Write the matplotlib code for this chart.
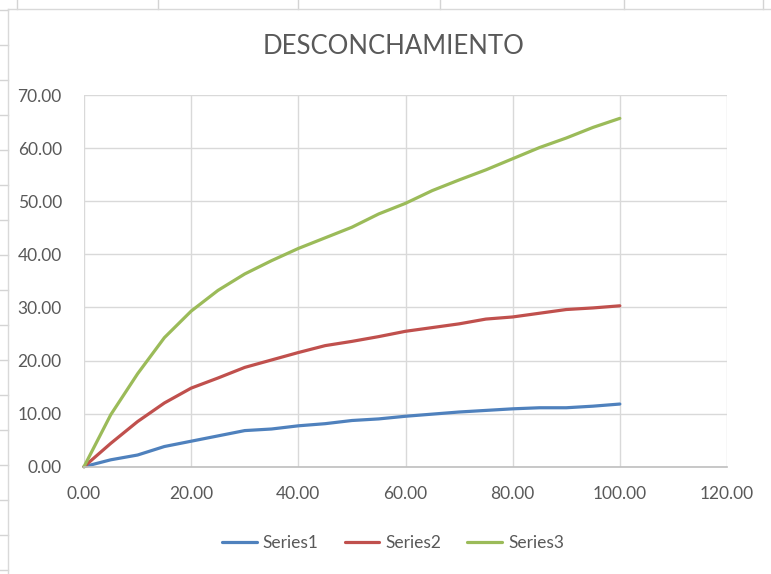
import matplotlib.pyplot as plt
from matplotlib.lines import Line2D

x_vals = [0, 5, 10, 15, 20, 25, 30, 35, 40, 45, 50,
          55, 60, 65, 70, 75, 80, 85, 90, 95, 100]
series1 = [0, 1.3, 2.2, 3.8, 4.8, 5.8, 6.8, 7.1, 7.7, 8.1, 8.7,
           9.0, 9.5, 9.9, 10.3, 10.6, 10.9, 11.1, 11.1, 11.4, 11.8]
series2 = [0, 4.4, 8.5, 12.0, 14.8, 16.7, 18.7, 20.1, 21.5, 22.8, 23.6,
           24.5, 25.5, 26.2, 26.9, 27.8, 28.2, 28.9, 29.6, 29.9, 30.3]
series3 = [0, 9.8, 17.5, 24.3, 29.3, 33.2, 36.3, 38.8, 41.1, 43.1, 45.1,
           47.6, 49.6, 52.0, 54.0, 55.9, 58.0, 60.1, 61.9, 63.9, 65.6]
names = ["Series1", "Series2", "Series3"]
colors = ["#4F81BD", "#C0504D", "#9BBB59"]
x_ticks = [0, 20, 40, 60, 80, 100, 120]
y_ticks = [0, 10, 20, 30, 40, 50, 60, 70]

W, H = 771, 574
plt.rcParams['font.family'] = ['Lato', 'DejaVu Sans']
txt = "#595959"

fig = plt.figure(figsize=(W / 100, H / 100), dpi=100)

# spreadsheet cell lines behind the chart
cell = "#d4d4d4"
for yy in range(10, H, 35):
    fig.add_artist(Line2D([0, 8 / W], [1 - yy / H] * 2, color=cell, lw=1))
for xx in [17, 158, 298, 440, 624, 763]:
    fig.add_artist(Line2D([xx / W] * 2, [1, 1 - 9 / H], color=cell, lw=1))
# chart area border
fig.add_artist(Line2D([8 / W, 8 / W], [0, 1 - 9 / H], color="#d9d9d9", lw=1))
fig.add_artist(Line2D([8 / W, 1], [1 - 9 / H] * 2, color="#d9d9d9", lw=1))

left, right, top, bottom = 84, 727, 95, 466.7
ax = fig.add_axes([left / W, 1 - bottom / H, (right - left) / W, (bottom - top) / H])

for ys, name, c in zip([series1, series2, series3], names, colors):
    ax.plot(x_vals, ys, color=c, lw=2.3, label=name,
            solid_capstyle='round', solid_joinstyle='round', clip_on=False)

ax.set_xlim(0, 120)
ax.set_ylim(0, 70)
ax.set_xticks(x_ticks)
ax.set_yticks(y_ticks)
ax.set_xticklabels([f"{v:.2f}" for v in x_ticks])
ax.set_yticklabels([f"{v:.2f}" for v in y_ticks])
ax.tick_params(length=0, labelsize=12.5, labelcolor=txt)
ax.tick_params(axis='x', pad=14)
ax.tick_params(axis='y', pad=16)
ax.grid(True, color="#d9d9d9", lw=1)
ax.set_axisbelow(True)
for s in ["top", "right", "left"]:
    ax.spines[s].set_visible(False)
ax.spines["bottom"].set_color("#bfbfbf")
ax.spines["bottom"].set_linewidth(1.2)

fig.text(394 / W, 1 - 47 / H, "DESCONCHAMIENTO", ha="center", va="center",
         fontsize=18.5, color=txt)

fig.legend(loc="center", bbox_to_anchor=(393 / W, 1 - 543 / H), ncol=3,
           frameon=False, fontsize=12.5, labelcolor=txt, handlelength=2.0,
           handletextpad=0.35, columnspacing=1.5)

fig.savefig("out.png", dpi=100)
